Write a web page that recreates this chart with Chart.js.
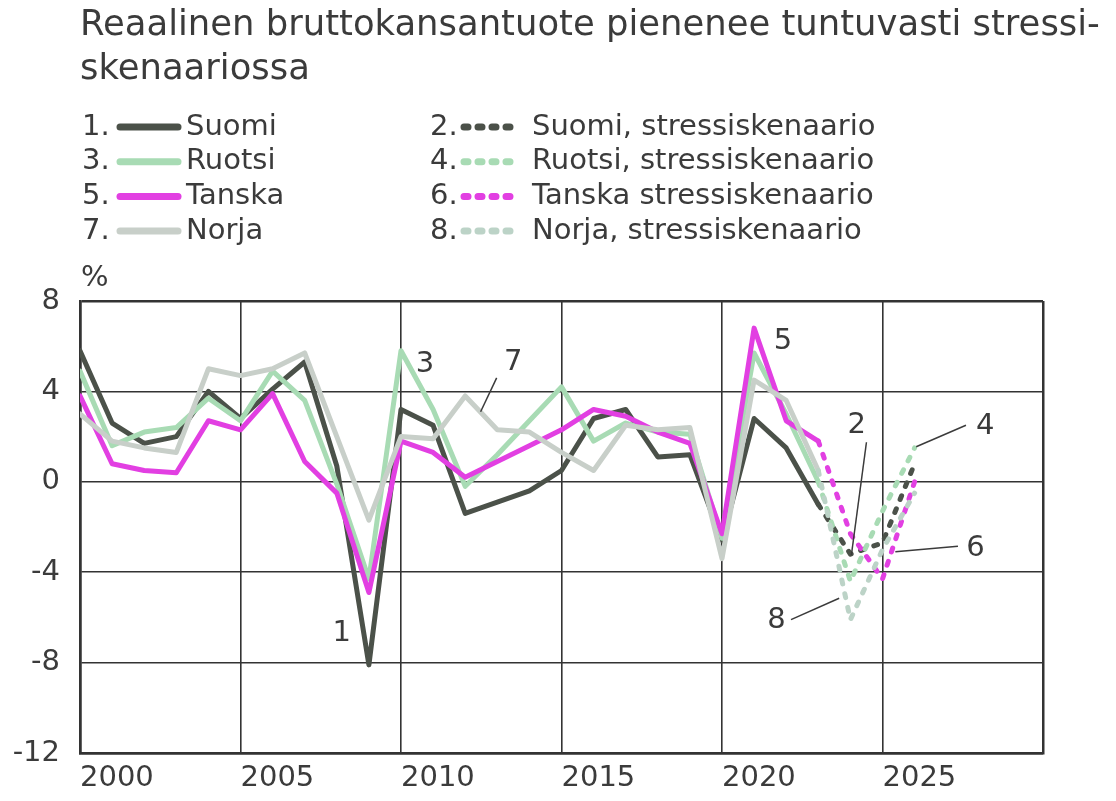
<!DOCTYPE html>
<html lang="fi">
<head>
<meta charset="utf-8">
<title>Reaalinen bruttokansantuote</title>
<script src="https://cdn.jsdelivr.net/npm/chart.js@4.4.1/dist/chart.umd.min.js"></script>
<style>
  html, body { margin: 0; padding: 0; background: #fff; }
  #wrap { width: 1116px; height: 801px; }
</style>
</head>
<body>
<div id="wrap"><canvas id="bktChart" width="1116" height="801"></canvas></div>
<script>
// vuodet ja kasvuluvut (%), luettu kuvasta
var years = [2000, 2001, 2002, 2003, 2004, 2005, 2006, 2007, 2008, 2009, 2010, 2011,
  2012, 2013, 2014, 2015, 2016, 2017, 2018, 2019, 2020, 2021, 2022, 2023];
var stressYears = [2023, 2024, 2025, 2026];

var suomi = [5.8, 2.6, 1.7, 2.0, 4.0, 2.8, 4.1, 5.3, 0.7, -8.1, 3.2, 2.5,
  -1.4, -0.9, -0.4, 0.5, 2.8, 3.2, 1.1, 1.2, -2.6, 2.8, 1.5, -1.0];
var ruotsi = [4.9, 1.6, 2.2, 2.4, 3.7, 2.7, 4.9, 3.6, -0.1, -4.3, 5.8, 3.2,
  -0.2, 1.2, 2.7, 4.2, 1.8, 2.6, 2.2, 2.1, -2.5, 5.7, 3.0, 0.0];
var tanska = [3.8, 0.8, 0.5, 0.4, 2.7, 2.3, 3.9, 0.9, -0.5, -4.9, 1.8, 1.3,
  0.2, 0.9, 1.6, 2.3, 3.2, 2.9, 2.2, 1.7, -2.3, 6.8, 2.7, 1.8];
var norja = [3.0, 1.8, 1.5, 1.3, 5.0, 4.7, 5.0, 5.7, 2.0, -1.7, 2.0, 1.9,
  3.8, 2.3, 2.2, 1.3, 0.5, 2.5, 2.3, 2.4, -3.4, 4.5, 3.6, 0.5];

var suomiStress = [-1.0, -3.2, -2.7, 0.8];
var ruotsiStress = [0.0, -4.4, -1.3, 1.5];
var tanskaStress = [1.8, -2.3, -4.3, 0.0];
var norjaStress = [0.5, -6.1, -3.0, -0.5];

var xTicks = [2000, 2005, 2010, 2015, 2020, 2025];
var yTicks = [8, 4, 0, -4, -8, -12];

var titleLines = ["Reaalinen bruttokansantuote pienenee tuntuvasti stressi-", "skenaariossa"];

// numeroidut selitteet kuvaajan sisällä (vuosi, arvo)
var notes = [
  { t: "1", x: 2008.15, y: -6.7 },
  { t: "3", x: 2010.75, y: 5.2 },
  { t: "7", x: 2013.5, y: 5.3, line: [2012.98, 4.6, 2012.48, 3.1] },
  { t: "5", x: 2021.9, y: 6.2 },
  { t: "2", x: 2024.2, y: 2.5, line: [2024.5, 1.75, 2024.03, -3.25] },
  { t: "4", x: 2028.2, y: 2.45, line: [2027.6, 2.5, 2026.05, 1.55] },
  { t: "6", x: 2027.9, y: -2.95, line: [2027.35, -2.85, 2025.4, -3.1] },
  { t: "8", x: 2021.7, y: -6.15, line: [2022.15, -6.1, 2023.65, -5.15] }
];

var textColor = "#3b3b3b";
var fontFam = "'DejaVu Sans', Verdana, sans-serif";

function pts(xs, vals) {
  return xs.map(function (x, i) { return { x: x, y: vals[i] }; });
}

function series(no, label, xs, vals, color, dashed, order) {
  return {
    label: label,
    legendNo: no,
    data: pts(xs, vals),
    borderColor: color,
    backgroundColor: color,
    borderWidth: 5,
    borderDash: dashed ? [4, 10] : [],
    borderCapStyle: "round",
    borderJoinStyle: "round",
    pointRadius: 0,
    tension: 0,
    fill: false,
    order: order
  };
}

var datasets = [
  series(1, "Suomi", years, suomi, "#4b5149", false, 8),
  series(2, "Suomi, stressiskenaario", stressYears, suomiStress, "#4b5149", true, 4),
  series(3, "Ruotsi", years, ruotsi, "#a8dbb4", false, 7),
  series(4, "Ruotsi, stressiskenaario", stressYears, ruotsiStress, "#a8dbb4", true, 2),
  series(5, "Tanska", years, tanska, "#e23fe2", false, 6),
  series(6, "Tanska stressiskenaario", stressYears, tanskaStress, "#e23fe2", true, 3),
  series(7, "Norja", years, norja, "#c8cfc9", false, 5),
  series(8, "Norja, stressiskenaario", stressYears, norjaStress, "#bcd3c7", true, 1)
];

// otsikko, selite, %-merkki ja numerot piirretään itse
var tekstit = {
  id: "tekstit",
  afterDraw: function (chart) {
    var ctx = chart.ctx;
    var xs = chart.scales.x, ys = chart.scales.y;
    ctx.save();
    ctx.fillStyle = textColor;
    ctx.textBaseline = "middle";
    ctx.textAlign = "left";

    ctx.font = "35.4px " + fontFam;
    ctx.fillText(titleLines[0], 80, 26);
    ctx.fillText(titleLines[1], 80, 70);

    ctx.font = "29px " + fontFam;
    var cols = [{ nx: 82, l0: 120, l1: 178, tx: 186 }, { nx: 430, l0: 464, l1: 514, tx: 532 }];
    chart.data.datasets.forEach(function (ds) {
      var c = cols[(ds.legendNo + 1) % 2];
      var row = Math.floor((ds.legendNo - 1) / 2);
      var y = 127 + row * 34.7;
      ctx.fillStyle = textColor;
      ctx.fillText(ds.legendNo + ".", c.nx, y);
      ctx.fillText(ds.label, c.tx, y);
      ctx.beginPath();
      ctx.strokeStyle = ds.borderColor;
      ctx.lineWidth = 7;
      ctx.lineCap = "round";
      ctx.setLineDash(ds.borderDash.length ? [4, 10] : []);
      ctx.moveTo(c.l0, y);
      ctx.lineTo(c.l1, y);
      ctx.stroke();
    });
    ctx.setLineDash([]);

    ctx.fillStyle = textColor;
    ctx.fillText("%", 81, 278);

    ctx.textAlign = "center";
    ctx.font = "29px " + fontFam;
    ctx.strokeStyle = "#3b3b3b";
    ctx.lineWidth = 1.5;
    ctx.lineCap = "butt";
    notes.forEach(function (n) {
      ctx.fillText(n.t, xs.getPixelForValue(n.x), ys.getPixelForValue(n.y));
      if (n.line) {
        ctx.beginPath();
        ctx.moveTo(xs.getPixelForValue(n.line[0]), ys.getPixelForValue(n.line[1]));
        ctx.lineTo(xs.getPixelForValue(n.line[2]), ys.getPixelForValue(n.line[3]));
        ctx.stroke();
      }
    });
    ctx.restore();
  }
};

function edgeWidth(min, max) {
  return function (c) {
    var v = c.tick ? c.tick.value : null;
    return (v === min || v === max) ? 2.5 : 1.6;
  };
}

new Chart(document.getElementById("bktChart").getContext("2d"), {
  type: "line",
  data: { datasets: datasets },
  options: {
    responsive: false,
    animation: false,
    events: [],
    layout: { padding: { top: 301, right: 73, bottom: 0, left: 0 } },
    plugins: {
      legend: { display: false },
      title: { display: false },
      tooltip: { enabled: false }
    },
    scales: {
      x: {
        type: "linear",
        min: 2000,
        max: 2030,
        afterBuildTicks: function (s) {
          s.ticks = xTicks.concat([2030]).map(function (v) { return { value: v }; });
        },
        afterFit: function (s) { s.height = 48; },
        grid: { color: "#333", lineWidth: edgeWidth(2000, 2030), drawTicks: false },
        border: { color: "#333", width: 2.5 },
        ticks: {
          align: "start",
          padding: 8,
          color: textColor,
          font: { family: fontFam, size: 29 },
          maxRotation: 0,
          autoSkip: false,
          callback: function (v) { return xTicks.indexOf(v) >= 0 ? String(v) : ""; }
        }
      },
      y: {
        min: -12,
        max: 8,
        afterBuildTicks: function (s) {
          s.ticks = yTicks.map(function (v) { return { value: v }; });
        },
        afterFit: function (s) { s.width = 80; },
        grid: { color: "#333", lineWidth: edgeWidth(-12, 8), drawTicks: false },
        border: { color: "#333", width: 2.5 },
        ticks: {
          padding: 20,
          color: textColor,
          font: { family: fontFam, size: 29 },
          callback: function (v) { return String(v); }
        }
      }
    }
  },
  plugins: [tekstit]
});
</script>
</body>
</html>
